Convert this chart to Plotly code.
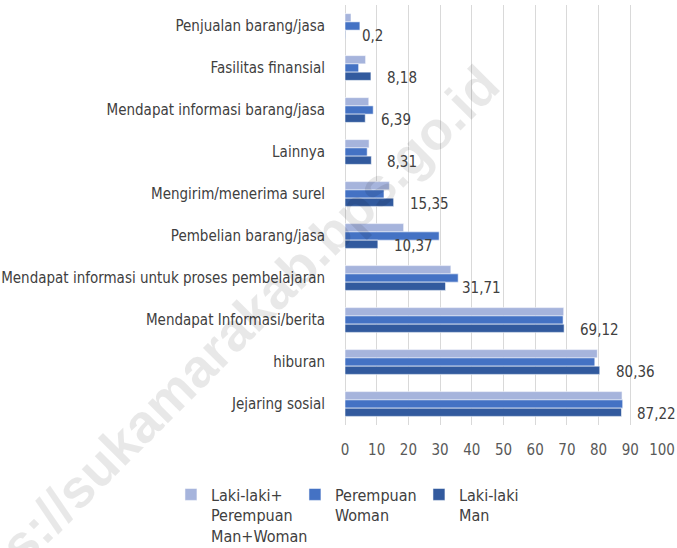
import plotly.graph_objects as go

categories = [
    "Penjualan barang/jasa",
    "Fasilitas finansial",
    "Mendapat informasi barang/jasa",
    "Lainnya",
    "Mengirim/menerima surel",
    "Pembelian barang/jasa",
    "Mendapat informasi untuk proses pembelajaran",
    "Mendapat Informasi/berita",
    "hiburan",
    "Jejaring sosial",
]
total_vals = [1.9, 6.5, 7.5, 7.6, 14.0, 18.5, 33.4, 69.0, 79.6, 87.4]
woman_vals = [4.7, 4.3, 8.9, 7.0, 12.3, 29.7, 35.7, 68.8, 78.8, 87.6]
man_vals = [0.2, 8.18, 6.39, 8.31, 15.35, 10.37, 31.71, 69.12, 80.36, 87.22]
x_ticks = [0, 10, 20, 30, 40, 50, 60, 70, 80, 90, 100]
series_names = ["Laki-laki+<br>Perempuan<br>Man+Woman", "Perempuan<br>Woman", "Laki-laki<br>Man"]
colors = ["#A6B4DC", "#4472C4", "#325A9E"]

FONT = "DejaVu Sans Condensed, Liberation Sans Narrow, sans-serif"

fig = go.Figure()
for name, vals, col in zip(series_names, [total_vals, woman_vals, man_vals], colors):
    fig.add_trace(go.Bar(
        y=categories, x=vals, name=name, orientation="h",
        marker=dict(color=col, line=dict(color="rgba(255,255,255,0.55)", width=1)),
        hoverinfo="x+y",
    ))

# watermark
fig.add_annotation(
    text="<b>https://sukamarakab.bps.go.id</b>", xref="paper", yref="paper",
    x=-0.416, y=0.177, xanchor="center", yanchor="middle", textangle=-45,
    showarrow=False, font=dict(family="Liberation Sans, Arial, sans-serif", size=54, color="rgba(0,0,0,0.09)"),
)

for c, v in zip(categories, man_vals):
    fig.add_annotation(
        x=v, y=c, text=f"{v:g}".replace(".", ","), showarrow=False,
        xanchor="left", yanchor="middle", xshift=14, yshift=-10,
        font=dict(family=FONT, size=15, color="#404040"),
    )

fig.update_layout(
    width=677, height=548,
    margin=dict(l=345, r=15, t=5, b=123, autoexpand=False),
    paper_bgcolor="white", plot_bgcolor="white",
    barmode="group", bargap=0.41, bargroupgap=0,
    font=dict(family=FONT, size=15, color="#404040"),
    showlegend=True,
    legend=dict(
        orientation="h", x=-0.549, xanchor="left", y=-0.125, yanchor="top",
        font=dict(family=FONT, size=16, color="#404040"), valign="top",
        itemclick=False, tracegroupgap=0, itemwidth=30,
        entrywidth=79, entrywidthmode="pixels",
    ),
    xaxis=dict(
        range=[0, 100], tickvals=x_ticks, showgrid=True, gridcolor="#D9D9D9", gridwidth=1.3,
        zeroline=True, zerolinecolor="#D9D9D9", zerolinewidth=1.3,
        ticks="outside", ticklen=11, tickcolor="rgba(0,0,0,0)", automargin=False,
        tickfont=dict(family=FONT, size=15, color="#595959"), showline=False, fixedrange=True,
    ),
    yaxis=dict(
        autorange="reversed", showgrid=False, ticks="outside", ticklen=16, automargin=False,
        tickcolor="rgba(0,0,0,0)", tickfont=dict(family=FONT, size=15, color="#404040"),
        showline=False, fixedrange=True,
    ),
)

fig.write_html("out.html", config={"displayModeBar": False},
               post_script="document.body.style.margin='0';")
